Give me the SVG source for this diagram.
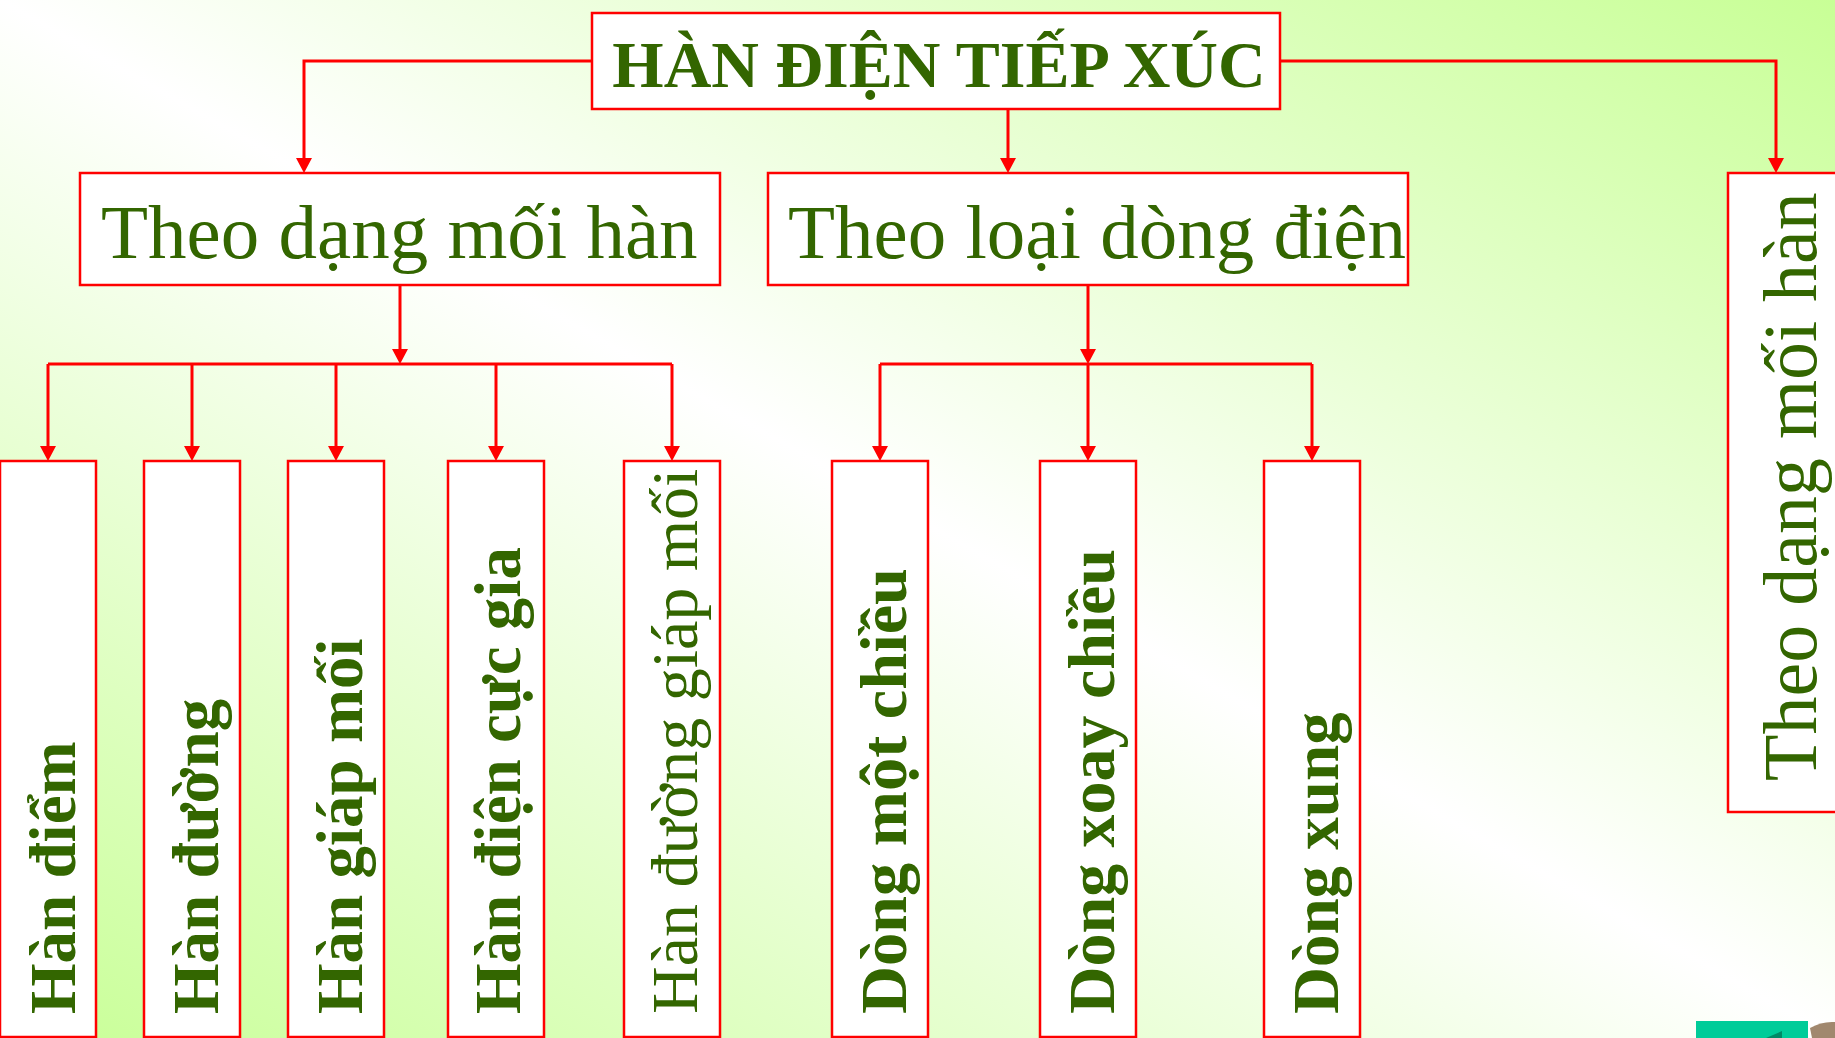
<svg xmlns="http://www.w3.org/2000/svg" width="1835" height="1038" viewBox="0 0 1835 1038">
  <defs>
    <linearGradient id="bg" x1="1" y1="0" x2="0" y2="1">
      <stop offset="0" stop-color="#c8ff96"/>
      <stop offset="0.5" stop-color="#ffffff"/>
      <stop offset="1" stop-color="#c8ff96"/>
    </linearGradient>
  </defs>
  <style>
    .box { fill: #ffffff; stroke: #ff0000; stroke-width: 2.5; }
    .ln { fill: none; stroke: #ff0000; stroke-width: 3; }
    .t { fill: #336600; font-family: "Liberation Serif", "Times New Roman", serif; }
    .b { font-weight: bold; font-size: 65px; }
    .r { font-size: 66px; }
    .m { font-size: 77px; }
  </style>
  <rect x="0" y="0" width="1835" height="1038" fill="url(#bg)"/>

  <g id="connectors">
    <path class="ln" d="M592,61 H304 V158"/>
    <path class="ln" d="M1280,61 H1776 V158"/>
    <path class="ln" d="M1008,109 V158"/>
    <path class="ln" d="M400,285 V350"/>
    <path class="ln" d="M48,364 H672"/>
    <path class="ln" d="M1088,285 V350"/>
    <path class="ln" d="M880,364 H1312"/>
    <path class="ln" d="M48,364 V447"/>
    <path class="ln" d="M192,364 V447"/>
    <path class="ln" d="M336,364 V447"/>
    <path class="ln" d="M496,364 V447"/>
    <path class="ln" d="M672,364 V447"/>
    <path class="ln" d="M880,364 V447"/>
    <path class="ln" d="M1088,364 V447"/>
    <path class="ln" d="M1312,364 V447"/>
    <g fill="#ff0000">
      <path d="M296,158 L312,158 L304,173 Z"/>
      <path d="M1000,158 L1016,158 L1008,173 Z"/>
      <path d="M1768,158 L1784,158 L1776,173 Z"/>
      <path d="M392,349 L408,349 L400,364 Z"/>
      <path d="M1080,349 L1096,349 L1088,364 Z"/>
      <path d="M40,446 L56,446 L48,461 Z"/>
      <path d="M184,446 L200,446 L192,461 Z"/>
      <path d="M328,446 L344,446 L336,461 Z"/>
      <path d="M488,446 L504,446 L496,461 Z"/>
      <path d="M664,446 L680,446 L672,461 Z"/>
      <path d="M872,446 L888,446 L880,461 Z"/>
      <path d="M1080,446 L1096,446 L1088,461 Z"/>
      <path d="M1304,446 L1320,446 L1312,461 Z"/>
    </g>
  </g>

  <g id="root">
    <rect class="box" x="592" y="13" width="688" height="96"/>
    <text class="t" x="939" y="87" text-anchor="middle" font-weight="bold" font-size="66">HÀN ĐIỆN TIẾP XÚC</text>
  </g>

  <g id="theo-dang-moi-han">
    <rect class="box" x="80" y="173" width="640" height="112"/>
    <text class="t m" x="101" y="258">Theo dạng mối hàn</text>
  </g>

  <g id="theo-loai-dong-dien">
    <rect class="box" x="768" y="173" width="640" height="112"/>
    <text class="t m" x="788" y="258">Theo loại dòng điện</text>
  </g>

  <g id="theo-dang-moi-han-2">
    <rect class="box" x="1728" y="173" width="120" height="639"/>
    <text class="t" font-size="76" transform="translate(1816,781) rotate(-90)">Theo dạng mối hàn</text>
  </g>

  <g id="han-diem">
    <rect class="box" x="0" y="461" width="96" height="576"/>
    <text class="t b" transform="translate(75,1014) rotate(-90)">Hàn điểm</text>
  </g>
  <g id="han-duong">
    <rect class="box" x="144" y="461" width="96" height="576"/>
    <text class="t b" transform="translate(218,1014) rotate(-90)">Hàn đường</text>
  </g>
  <g id="han-giap-moi">
    <rect class="box" x="288" y="461" width="96" height="576"/>
    <text class="t b" transform="translate(362,1014) rotate(-90)">Hàn giáp mối</text>
  </g>
  <g id="han-dien-cuc-gia">
    <rect class="box" x="448" y="461" width="96" height="576"/>
    <text class="t b" transform="translate(520,1014) rotate(-90)">Hàn điện cực gia</text>
  </g>
  <g id="han-duong-giap-moi">
    <rect class="box" x="624" y="461" width="96" height="576"/>
    <text class="t r" transform="translate(697,1014) rotate(-90)">Hàn đường giáp mối</text>
  </g>
  <g id="dong-mot-chieu">
    <rect class="box" x="832" y="461" width="96" height="576"/>
    <text class="t b" transform="translate(906,1014) rotate(-90)" textLength="446" lengthAdjust="spacingAndGlyphs">Dòng một chiều</text>
  </g>
  <g id="dong-xoay-chieu">
    <rect class="box" x="1040" y="461" width="96" height="576"/>
    <text class="t b" transform="translate(1114,1014) rotate(-90)" textLength="465" lengthAdjust="spacingAndGlyphs">Dòng xoay chiều</text>
  </g>
  <g id="dong-xung">
    <rect class="box" x="1264" y="461" width="96" height="576"/>
    <text class="t b" transform="translate(1338,1014) rotate(-90)">Dòng xung</text>
  </g>

  <rect x="1696" y="1021" width="112" height="17" fill="#00cc99"/>
  <path d="M1766,1038 L1782,1031 L1782,1038 Z" fill="#008a66"/>
  <path d="M1810,1028 Q1822,1021 1835,1022 L1835,1038 L1812,1038 Z" fill="#8a6a4a" opacity="0.8"/>
</svg>
